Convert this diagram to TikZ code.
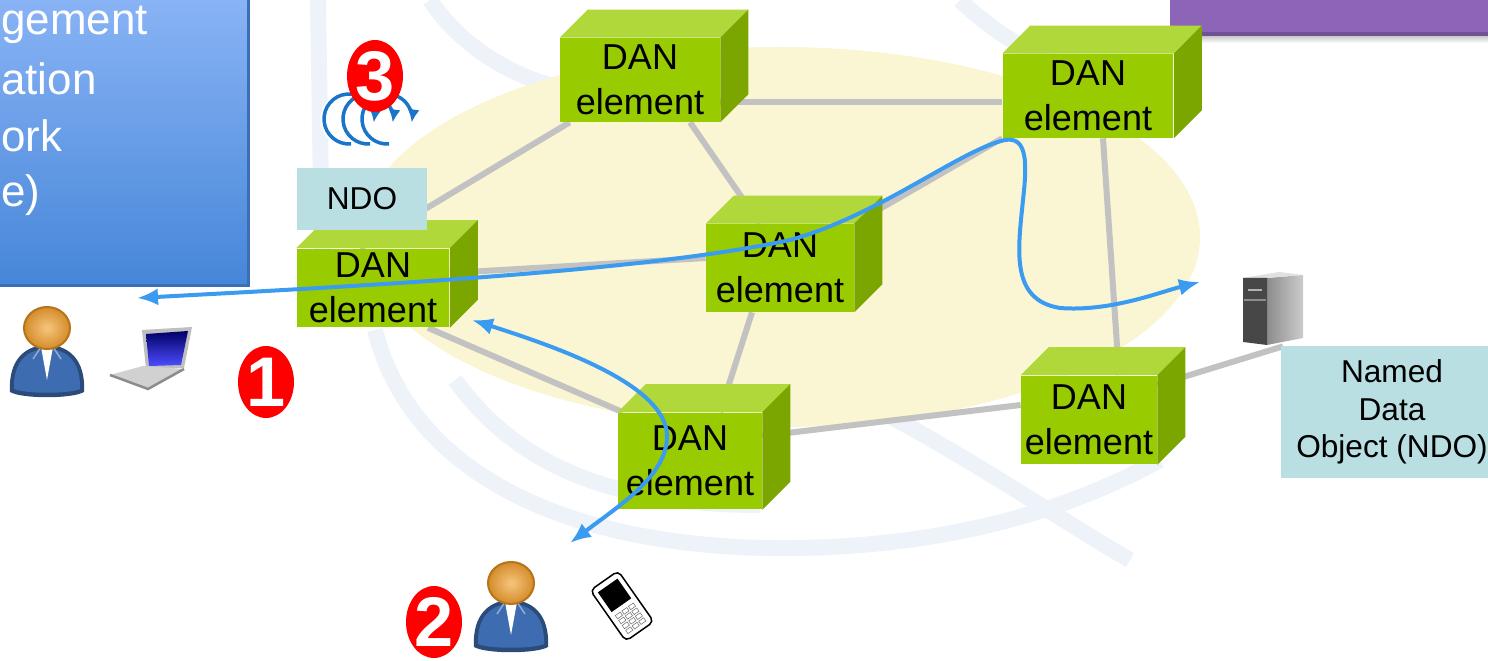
\documentclass[tikz,border=0pt]{standalone}
\usepackage{fontspec}
\setmainfont{Liberation Sans}
\usetikzlibrary{arrows.meta,calc,shapes.geometric}

\definecolor{dangreen}{HTML}{99CC00}
\definecolor{dantop}{HTML}{B0D83A}
\definecolor{danside}{HTML}{7BA600}
\definecolor{linkgray}{HTML}{C2C2C2}
\definecolor{ndocyan}{HTML}{B9DFE3}
\definecolor{flowblue}{HTML}{3A9BF0}
\definecolor{loopblue}{HTML}{1A75C8}
\definecolor{netyellow}{HTML}{FAF6D3}
\definecolor{wmark}{HTML}{EEF2F9}
\definecolor{badgered}{HTML}{FF0000}
\definecolor{boxtop}{HTML}{8DB6F7}
\definecolor{boxbot}{HTML}{4686D8}
\definecolor{boxedge}{HTML}{3A6FB5}
\definecolor{mgmtpurple}{HTML}{8C65B9}
\definecolor{personblue}{HTML}{3D6DB0}
\definecolor{headlight}{HTML}{F6C57E}
\definecolor{headdark}{HTML}{D48C2A}
\definecolor{headedge}{HTML}{B5731A}

\pgfdeclarelayer{back}
\pgfdeclarelayer{links}
\pgfsetlayers{back,links,main}

\tikzset{
  dan/.style 2 args={fill=dangreen, inner sep=0pt, minimum width=#1, minimum height=#2,
    align=center, font=\fontsize{20.5}{25.6}\selectfont},
  ndo/.style={fill=ndocyan, inner sep=0pt, align=center, font=\fontsize{18}{21.5}\selectfont},
  link/.style={draw=linkgray, line width=0.12cm},
  flow/.style={draw=flowblue, line width=0.08cm,
    {Latex[length=0.42cm,width=0.34cm]}-{Latex[length=0.42cm,width=0.34cm]}},
  badge/.style={ellipse, fill=badgered, text=white, inner sep=0pt,
    minimum width=1.12cm, minimum height=1.44cm, font=\fontsize{40}{40}\selectfont\bfseries},
  person/.pic={
    \fill[personblue!70!black] (-37,64) .. controls (-39,30) and (-20,17) .. (0,17)
      .. controls (20,17) and (39,30) .. (37,64) .. controls (25,71) and (-25,71) .. cycle;
    \fill[personblue] (-33,61) .. controls (-34,32) and (-18,21) .. (0,21)
      .. controls (18,21) and (34,32) .. (33,61) .. controls (22,66) and (-22,66) .. cycle;
    \fill[white] (-6,19) -- (0,52) -- (6,19) -- cycle;
    \draw[personblue!55!white, line width=0.03cm] (-6,19) -- (-14,31) (6,19) -- (14,31);
    \shadedraw[inner color=headlight, outer color=headdark, draw=headedge, line width=0.04cm]
      (0,0) ellipse [x radius=23, y radius=21];
  }
}

\begin{document}
\begin{tikzpicture}[x=0.02cm, y=-0.02cm, >=Latex]
  \useasboundingbox (0,0) rectangle (1488,661);
  \clip (0,0) rectangle (1488,661);

  % DAN elements
  \node[dan={3.2cm}{1.68cm}] (d1) at (640,80) {DAN\\element};
  \node[dan={3.42cm}{1.68cm}] (d2) at (1088,96) {DAN\\element};
  \node[dan={3.06cm}{1.58cm}] (d3) at (373,288) {DAN\\element};
  \node[dan={2.96cm}{1.76cm}] (d4) at (780,268) {DAN\\element};
  \node[dan={2.88cm}{1.94cm}] (d5) at (690,461) {DAN\\element};
  \node[dan={2.72cm}{1.78cm}] (d6) at (1089,420) {DAN\\element};
  \foreach \n in {d1,d2,d3,d4,d5,d6}{
    \fill[dantop] (\n.north west) -- ++(28,-28) -- ($(\n.north east)+(28,-28)$)
      -- (\n.north east) -- cycle;
    \fill[danside] (\n.north east) -- ++(28,-28) -- ($(\n.south east)+(28,-28)$)
      -- (\n.south east) -- cycle;
  }

  % stored objects
  \node[ndo, minimum width=2.62cm, minimum height=1.24cm] (ndo) at (362,199) {NDO};
  \node[ndo, minimum width=4.44cm, minimum height=2.64cm] (ndobox) at (1392,412)
    {Named\\Data\\Object (NDO)};

  % server
  \node[inner sep=0pt, minimum width=1.24cm, minimum height=1.4cm] (srv) at (1273,311) {};
  \shade[left color=black!45, right color=black!20] (1267,278) -- (1303,275) -- (1303,338)
    -- (1267,345) -- cycle;
  \fill[black!12] (1243,278) -- (1279,272) -- (1303,275) -- (1267,278) -- cycle;
  \fill[black!72] (1243,278) -- (1267,278) -- (1267,345) -- (1243,342) -- cycle;
  \draw[black!45, line width=0.03cm] (1244,300) -- (1266,300);
  \fill[black!30] (1248,289) rectangle (1262,291);

  % laptop
  \fill[black!25] (142,330) -- (192,327) -- (184,368) -- (146,369) -- cycle;
  \shade[top color=blue!40!black, bottom color=blue!70!white] (146,334) -- (188,331)
    -- (181,365) -- (149,366) -- cycle;
  \fill[black!18] (110,375) -- (143,366) -- (184,369) -- (148,389) -- cycle;
  \draw[black!45, line width=0.05cm] (110,375) -- (148,389) -- (184,369);

  % phone
  \begin{scope}[shift={(622,606)}, rotate=35]
    \filldraw[fill=white, draw=black, line width=0.03cm, rounded corners=0.1cm]
      (-17,-31) rectangle (17,31);
    \fill[black] (-12,-25) rectangle (12,-1);
    \foreach \i in {-8,0,8}
      \foreach \j in {6,12,18,24}
        \draw[black!60, line width=0.01cm] (\i-3,\j-2) rectangle (\i+3,\j+2);
  \end{scope}

  % users
  \pic at (47,328) {person};
  \pic at (511,583) {person};

  % request loops
  \foreach \cx in {349,368,387}{
    \draw[white, line width=0.14cm] (\cx,119) ++(-275:25) arc[start angle=-275, end angle=8, radius=25];
    \draw[loopblue, line width=0.07cm, -{Latex[length=0.26cm,width=0.24cm]}]
      (\cx,119) ++(-275:25) arc[start angle=-275, end angle=8, radius=25];
  }

  % data flows
  \coordinate (u1tip) at (137,298);
  \coordinate (srvtip) at (1200,282);
  \coordinate (d3tip) at (472,320);
  \coordinate (u2tip) at (570,543);
  \draw[flow] (u1tip) .. controls (400,284) and (650,270) .. (790,240)
    .. controls (880,215) and (960,150) .. (1005,140)
    .. controls (1028,136) and (1027,165) .. (1023,200)
    .. controls (1018,250) and (1010,300) .. (1060,308)
    .. controls (1110,312) and (1160,292) .. (srvtip);
  \draw[flow] (d3tip) .. controls (560,348) and (665,385) .. (667,435)
    .. controls (668,475) and (620,505) .. (u2tip);

  % steps
  \node[badge] (b1) at (266,382) {1};
  \node[badge] (b2) at (434,622) {2};
  \node[badge] (b3) at (375,76) {3};

  % links between elements
  \begin{pgfonlayer}{links}
    \draw[link] ($(d3.north)+(-13,0)$) -- ($(d1.south west)+(10,0)$);
    \draw[link] ($(d1.east)+(0,22)$) -- ($(d2.west)+(0,6)$);
    \draw[link] ($(d1.south)+(50,0)$) -- ($(d4.north)+(-20,0)$);
    \draw[link] ($(d3.east)+(0,-15)$) -- ($(d4.west)+(0,-10)$);
    \draw[link] (d2.south west) -- (d4.north east);
    \draw[link] ($(d2.south)+(15,0)$) -- ($(d6.north)+(30,0)$);
    \draw[link] ($(d4.south)+(-28,0)$) -- ($(d5.north)+(30,0)$);
    \draw[link] ($(d3.south)+(55,0)$) -- ($(d5.north west)+(5,0)$);
    \draw[link] ($(d5.east)+(0,-25)$) -- ($(d6.west)+(0,-15)$);
    \draw[link] ($(d6.east)+(0,-35)$) -- ($(srv.south)+(10,0)$);
  \end{pgfonlayer}

  \begin{pgfonlayer}{back}
    % faint globe in the backdrop
    \begin{scope}[draw=wmark, line width=0.32cm]
      \draw (375,330) .. controls (410,470) and (560,545) .. (770,548)
        .. controls (930,550) and (1060,515) .. (1160,460);
      \draw (455,380) .. controls (520,470) and (620,505) .. (760,505);
      \draw (840,390) .. controls (960,450) and (1060,520) .. (1130,560);
      \draw (318,0) -- (322,260);
      \draw (430,0) .. controls (470,60) and (540,90) .. (600,95);
      \draw (960,0) .. controls (1000,40) and (1060,70) .. (1120,90);
    \end{scope}
    \fill[netyellow] (780,237) ellipse [x radius=420, y radius=190];

    % management boxes
    \shade[top color=boxtop, bottom color=boxbot] (-20,-20) rectangle (248,286);
    \draw[boxedge, line width=0.06cm] (248,-20) -- (248,286) -- (-20,286);
    \shade[top color=black!22, bottom color=white] (1170,36) rectangle (1500,43);
    \fill[mgmtpurple] (1170,-20) rectangle (1500,36);
    \fill[mgmtpurple!80!black] (1170,32) rectangle (1500,36);
    \foreach \w/\yb [count=\i] in {gement/35, ation/95, ork/152, e)/207}
      \node[anchor=base west, text=white, inner sep=0pt, font=\fontsize{25}{30}\selectfont]
        (mgmt\i) at (1,\yb) {\w};
  \end{pgfonlayer}
\end{tikzpicture}
\end{document}
